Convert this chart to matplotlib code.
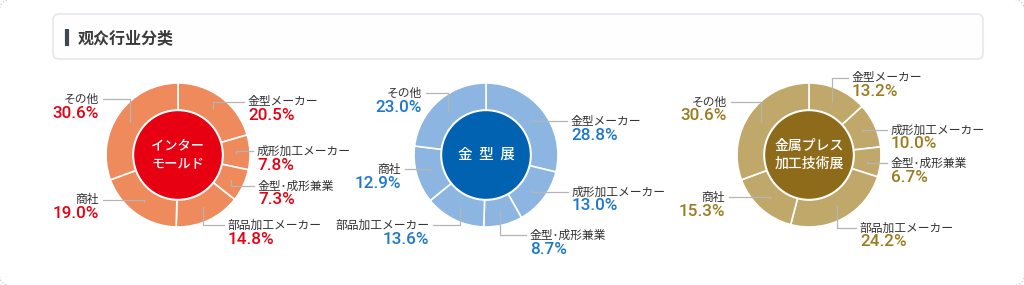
# 观众行业分类 - three donut charts
import math
import matplotlib.pyplot as plt
from matplotlib.patches import Circle, FancyBboxPatch

W, H = 1024, 285

# data
categories = ['金型メーカー', '成形加工メーカー', '金型･成形兼業', '部品加工メーカー', '商社', 'その他']
show_names = ['インター\nモールド', '金  型  展', '金属プレス\n加工技術展']
values_im = [20.5, 7.8, 7.3, 14.8, 19.0, 30.6]
values_kg = [28.8, 13.0, 8.7, 13.6, 12.9, 23.0]
values_mp = [13.2, 10.0, 6.7, 24.2, 15.3, 30.6]

# style / layout per chart
charts = [
    dict(vals=values_im, cx=178, ring='#EE8A5C', inner='#E60012', txt='#E60012', csize=9.5,
         # label (x, y, side) for each category, y in px from top
         labels=[(248, 102, 'l'), (257, 151, 'l'), (258, 186, 'l'), (228, 225, 'l'),
                 (99, 200, 'r'), (99, 99, 'r')]),
    dict(vals=values_kg, cx=486, ring='#8DB5E2', inner='#0062B1', txt='#1E78C8', csize=10.5,
         labels=[(571, 121, 'l'), (572, 192, 'l'), (530, 235, 'l'), (429, 225, 'r'),
                 (401, 169, 'r'), (422, 93, 'r')]),
    dict(vals=values_mp, cx=809, ring='#C0A86A', inner='#8E6B1A', txt='#9B7B1E', csize=10,
         labels=[(852, 78, 'l'), (891, 130, 'l'), (891, 163, 'l'), (860, 228, 'l'),
                 (725, 197, 'r'), (727, 102, 'r')]),
]
CY = 155
R_OUT, R_W = 72, 27

cjk = ['Noto Sans CJK JP', 'DejaVu Sans']

fig = plt.figure(figsize=(W / 100, H / 100), dpi=100)
ax = fig.add_axes([0, 0, 1, 1])

def fy(y):
    return H - y

# outer rounded frame (only corners visible)
ax.add_patch(FancyBboxPatch((-1, -1), W + 2, H + 2, boxstyle='round,pad=0,rounding_size=14',
                            fc='white', ec='#b9b9b9', lw=0.8, ls=(0, (1, 2)), zorder=0))

# header box
ax.add_patch(FancyBboxPatch((53, fy(59)), 930, 45, boxstyle='round,pad=0,rounding_size=6',
                            fc='#fefefe', ec='#e4e8ec', lw=1.2, zorder=1))
ax.plot([66.5, 66.5], [fy(29), fy(46)], color='#3d4855', lw=3, solid_capstyle='butt', zorder=2)
ax.text(78, fy(38), '观众行业分类', family=['Noto Sans CJK SC', 'DejaVu Sans'], fontsize=11.5,
        fontweight='bold', color='#3a3a3a', va='center', ha='left', zorder=2)

for ch, cname in zip(charts, show_names):
    cx = ch['cx']
    vals = ch['vals']
    ax.pie(vals, colors=[ch['ring']] * len(vals), startangle=90, counterclock=False,
           radius=R_OUT, center=(cx, fy(CY)),
           wedgeprops=dict(width=R_W, edgecolor='white', linewidth=1.2))
    ax.add_patch(Circle((cx, fy(CY)), R_OUT - R_W - 0.5, fc=ch['inner'], ec='white', lw=1, zorder=3))
    ax.text(cx, fy(CY), cname, family=cjk, fontsize=ch['csize'], fontweight='medium', color='white',
            ha='center', va='center', linespacing=1.3, zorder=4)

    # labels with leader lines
    cum = 0
    for name, v, (lx, ly, side) in zip(categories, vals, ch['labels']):
        ang = math.radians(90 - 360 * (cum + v / 2) / 100)
        cum += v
        axp = cx + 58 * math.cos(ang)
        ayp = CY - 58 * math.sin(ang)
        if side == 'l':
            ex, ha = lx - 4, 'left'
        else:
            ex, ha = lx + 4, 'right'
        ax.plot([axp, axp, ex], [fy(ayp), fy(ly), fy(ly)], color='#b5b5b5', lw=0.9, zorder=5)
        ax.text(lx, fy(ly), name, family=cjk, fontsize=8.5, color='#333333', ha=ha, va='center')
        ax.text(lx, fy(ly + 14), f'{v:.1f}%', family=['Roboto', 'Liberation Sans'], fontsize=12.3,
                fontweight='medium', color=ch['txt'], ha=ha, va='center')

ax.set_xlim(0, W)
ax.set_ylim(0, H)
ax.set_aspect('auto')
ax.axis('off')

fig.savefig('out.png', dpi=100)
